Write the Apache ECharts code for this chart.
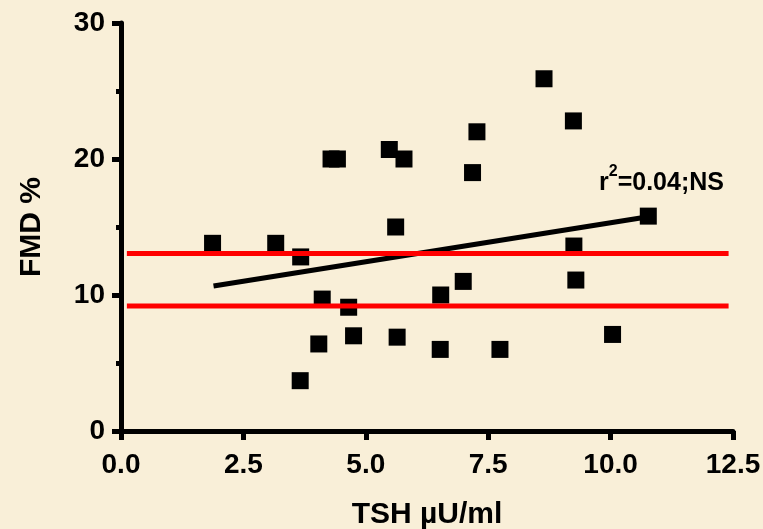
<!DOCTYPE html>
<html>
<head>
<meta charset="utf-8">
<script src="https://cdn.jsdelivr.net/npm/echarts@6/dist/echarts.min.js"></script>
<style>
  html, body { margin: 0; padding: 0; background: #f9efd8; }
  #chart { width: 763px; height: 529px; }
</style>
</head>
<body>
<div id="chart"></div>
<script>
  // TSH (x) and FMD (y) for each subject
  var tshValues = [1.87, 3.16, 3.67, 3.66, 4.04, 4.11, 4.65, 4.75, 4.29, 4.42, 5.48, 5.78, 5.61,
                   5.64, 6.53, 6.52, 6.99, 7.18, 7.27, 7.74, 8.64, 9.24, 9.25, 9.29, 10.04, 10.77];
  var fmdValues = [13.8, 13.8, 12.8, 3.7, 6.4, 9.7, 9.1, 7.0, 20.0, 20.0, 20.7, 20.0, 15.0,
                   6.9, 10.0, 6.0, 11.0, 19.0, 22.0, 6.0, 25.9, 22.8, 13.6, 11.1, 7.1, 15.8];
  // regression line end points
  var fitX = [1.89, 10.77];
  var fitY = [10.66, 15.76];
  // the two red reference lines
  var refX = [0.12, 12.41];
  var refY = [13.05, 9.2];
  var annotation = '{r|r}{sup|2}{r|=0.04;NS}';

  var font = 'Liberation Sans, Arial, sans-serif';
  var points = tshValues.map(function (x, i) { return [x, fmdValues[i]]; });

  var chart = echarts.init(document.getElementById('chart'));
  chart.setOption({
    backgroundColor: '#f9efd8',
    animation: false,
    grid: { left: 121, right: 30, top: 23, bottom: 98, containLabel: false, outerBoundsMode: 'none' },
    xAxis: {
      type: 'value',
      min: 0, max: 12.5, interval: 2.5,
      name: 'TSH \u00b5U/ml',
      nameLocation: 'middle',
      nameGap: 69,
      nameTextStyle: { color: '#000', fontFamily: font, fontWeight: 'bold', fontSize: 30 },
      axisLine: { lineStyle: { color: '#000', width: 5 } },
      axisTick: { show: true, length: 9, lineStyle: { color: '#000', width: 5 } },
      axisLabel: {
        color: '#000', fontFamily: font, fontWeight: 'bold', fontSize: 28, margin: 20,
        formatter: function (v) { return v.toFixed(1); }
      },
      splitLine: { show: false }
    },
    yAxis: {
      type: 'value',
      min: 0, max: 30, interval: 10,
      name: 'FMD %',
      nameLocation: 'middle',
      nameGap: 74,
      nameRotate: 90,
      nameTextStyle: { color: '#000', fontFamily: font, fontWeight: 'bold', fontSize: 30 },
      axisLine: { show: true, lineStyle: { color: '#000', width: 5 } },
      axisTick: { show: true, length: 9, lineStyle: { color: '#000', width: 5 } },
      minorTick: { show: true, splitNumber: 2, length: 5, lineStyle: { color: '#000', width: 5 } },
      axisLabel: { color: '#000', fontFamily: font, fontWeight: 'bold', fontSize: 28, margin: 16 },
      splitLine: { show: false }
    },
    series: [
      {
        type: 'scatter',
        data: points,
        symbol: 'rect',
        symbolSize: 17,
        itemStyle: { color: '#000', opacity: 1 },
        z: 2
      },
      {
        type: 'line',
        data: [[fitX[0], fitY[0]], [fitX[1], fitY[1]]],
        showSymbol: false,
        lineStyle: { color: '#000', width: 5 },
        z: 3
      },
      {
        type: 'line',
        data: [[refX[0], refY[0]], [refX[1], refY[0]]],
        showSymbol: false,
        lineStyle: { color: '#ff0000', width: 5 },
        z: 4
      },
      {
        type: 'line',
        data: [[refX[0], refY[1]], [refX[1], refY[1]]],
        showSymbol: false,
        lineStyle: { color: '#ff0000', width: 5 },
        z: 4
      }
    ],
    graphic: [{
      type: 'text',
      left: 599,
      top: 164,
      style: {
        text: annotation,
        rich: {
          r: { fontFamily: font, fontWeight: 'bold', fontSize: 25, lineHeight: 32, verticalAlign: 'bottom', fill: '#000' },
          sup: { fontFamily: font, fontWeight: 'bold', fontSize: 16, lineHeight: 18, verticalAlign: 'top', fill: '#000' }
        }
      }
    }]
  });
</script>
</body>
</html>
